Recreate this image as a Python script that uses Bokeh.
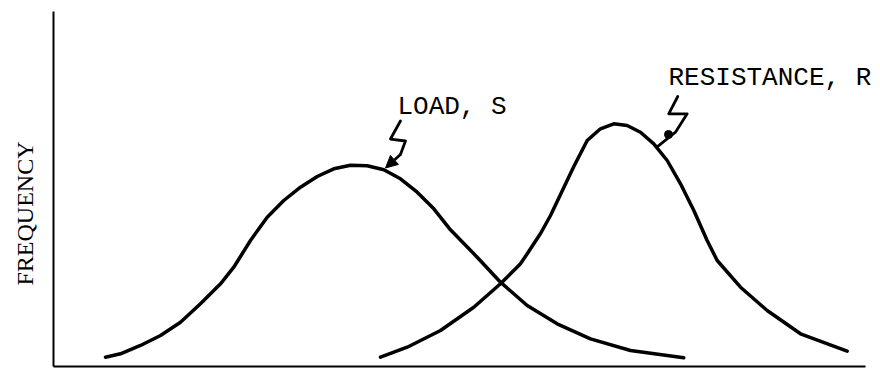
import math
from bokeh.plotting import figure
from bokeh.models import Range1d, Label, Arrow, NormalHead, FixedTicker, LinearAxis
from bokeh.embed import file_html
from bokeh.resources import INLINE

# ---- data (arbitrary units: stress/strength 0-100, relative frequency 0-100) ----
load_x = [6.40, 8.25, 10.71, 13.18, 15.64, 18.10, 20.57, 22.20, 24.26, 26.32, 28.36, 30.42,
          32.48, 34.52, 36.58, 38.63, 40.68, 42.73, 44.79, 46.84, 48.89, 52.18, 55.05, 58.34,
          62.03, 66.13, 71.06, 77.62]
load_y = [2.62, 3.58, 5.92, 8.73, 12.48, 17.66, 23.30, 27.97, 35.49, 42.06, 46.76, 50.51,
          53.52, 55.69, 56.70, 56.54, 55.41, 52.87, 49.10, 44.42, 38.51, 30.79, 23.75, 17.18,
          12.03, 7.80, 4.51, 2.45]

res_x = [40.27, 43.56, 47.66, 51.76, 55.05, 57.51, 58.34, 59.98, 61.21, 62.44, 64.08, 65.73,
         67.36, 69.00, 70.65, 72.29, 73.93, 75.58, 77.22, 78.86, 80.50, 81.74, 84.61, 87.89,
         92.00, 97.74]
res_y = [2.62, 5.44, 10.14, 16.70, 23.30, 28.93, 31.75, 37.46, 42.54, 48.45, 56.34, 63.66,
         66.96, 68.37, 67.89, 66.00, 62.73, 58.03, 51.46, 43.94, 35.49, 29.86, 22.34, 15.77,
         9.21, 4.31]

y_label = "FREQUENCY"
load_label = "LOAD, S"
res_label = "RESISTANCE, R"

# pointer (annotation) paths
load_ptr_x = [42.73, 41.50, 43.35, 42.73]
load_ptr_y = [69.15, 64.08, 63.52, 59.72]
load_tip = (40.89, 55.92)
res_ptr_x = [76.88, 75.77, 78.04, 76.60, 74.42]
res_ptr_y = [76.06, 71.18, 71.18, 66.00, 62.00]
res_dot = (75.74, 65.35)

p = figure(width=880, height=368, output_backend="svg", toolbar_location=None,
           x_range=Range1d(-6.527, 101.85), y_range=Range1d(-0.563, 103.10),
           x_axis_location=None, y_axis_location=None, min_border=0)
p.outline_line_color = None
p.background_fill_color = "white"
p.border_fill_color = "white"
p.grid.visible = False
p.xgrid.grid_line_color = None
p.ygrid.grid_line_color = None

xax = LinearAxis(fixed_location=0, bounds=(0, 100))
yax = LinearAxis(fixed_location=0, bounds=(0, 100))
for ax in (xax, yax):
    ax.ticker = FixedTicker(ticks=[])
    ax.major_tick_in = 0
    ax.major_tick_out = 0
    ax.minor_tick_in = 0
    ax.minor_tick_out = 0
    ax.major_label_standoff = 0
    ax.axis_line_width = 2
    ax.axis_line_color = "black"
p.add_layout(xax, "below")
p.add_layout(yax, "left")

kw = dict(line_color="black", line_width=3.5, line_cap="round", line_join="round")
p.line(load_x, load_y, **kw)
p.line(res_x, res_y, **kw)

# pointers
p.line(load_ptr_x, load_ptr_y, line_color="black", line_width=2.8, line_cap="round", line_join="round")
p.add_layout(Arrow(x_start=load_ptr_x[-1], y_start=load_ptr_y[-1], x_end=load_tip[0], y_end=load_tip[1],
                   line_color="black", line_width=2.8,
                   end=NormalHead(size=12, fill_color="black", line_color="black", line_width=1)))
p.line(res_ptr_x, res_ptr_y, line_color="black", line_width=2.8, line_cap="round", line_join="round")
p.scatter([res_dot[0]], [res_dot[1]], size=8, color="black")

# texts
mono = "Liberation Mono"
p.add_layout(Label(x=42.36, y=73.0, text=load_label, text_font=mono, text_font_size="26px",
                   text_color="black", text_align="left", text_baseline="alphabetic"))
p.add_layout(Label(x=75.74, y=81.2, text=res_label, text_font=mono, text_font_size="26px",
                   text_color="black", text_align="left", text_baseline="alphabetic"))
p.add_layout(Label(x=-3.57, y=43.10, text=y_label, text_font="Liberation Serif", text_font_size="24px",
                   text_color="black", text_align="center", text_baseline="middle", angle=math.pi / 2))

open("out.html", "w").write(file_html(p, INLINE))
